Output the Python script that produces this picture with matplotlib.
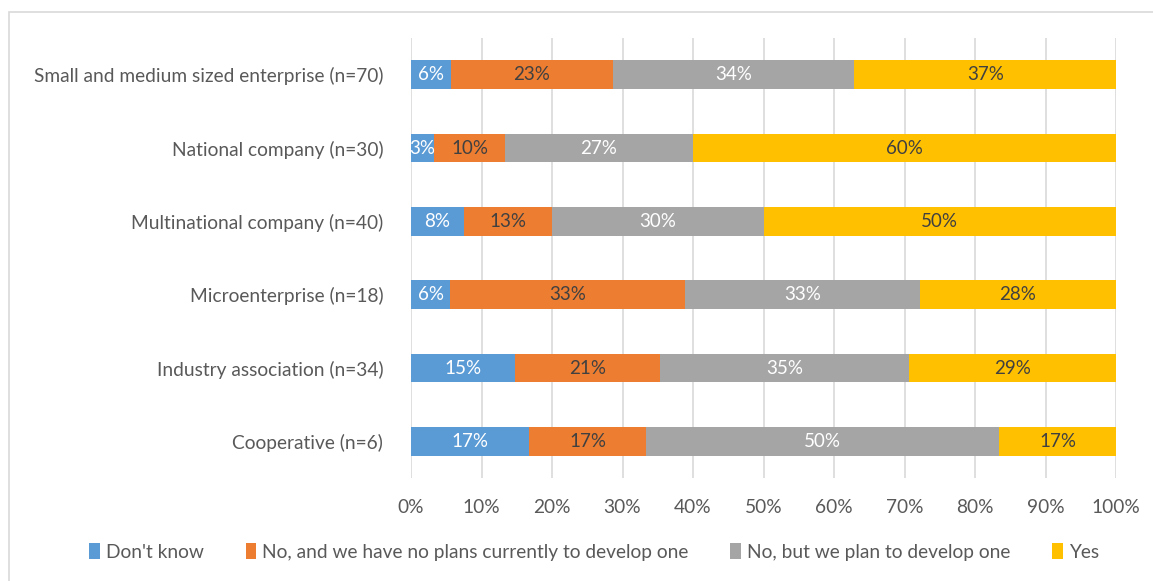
import matplotlib
matplotlib.use("Agg")
import matplotlib.pyplot as plt
from matplotlib.patches import Rectangle
import numpy as np

plt.rcParams['font.family'] = ['Lato', 'DejaVu Sans']

# categories listed bottom -> top
categories = ['Cooperative (n=6)', 'Industry association (n=34)', 'Microenterprise (n=18)',
              'Multinational company (n=40)', 'National company (n=30)',
              'Small and medium sized enterprise (n=70)']
dont_know = [16.7, 14.7, 5.6, 7.5, 3.3, 5.7]
no_plans = [16.7, 20.6, 33.3, 12.5, 10.0, 22.9]
plan_to = [50.0, 35.3, 33.3, 30.0, 26.7, 34.3]
yes = [16.7, 29.4, 27.8, 50.0, 60.0, 37.1]

series = ["Don't know", "No, and we have no plans currently to develop one",
          "No, but we plan to develop one", "Yes"]
colors = ['#5B9BD5', '#ED7D31', '#A5A5A5', '#FFC000']
text_colors = ['white', '#404040', 'white', '#404040']

fig = plt.figure(figsize=(11.53, 5.81), dpi=100)
ax = fig.add_axes([411/1153, 1-478/581, 705/1153, 440/581])

y = np.arange(len(categories))
left = np.zeros(len(categories))
for vals, name, col, tc in zip([dont_know, no_plans, plan_to, yes], series, colors, text_colors):
    vals = np.array(vals)
    ax.barh(y, vals, left=left, height=0.39, color=col, label=name, zorder=3)
    for yi, l, v in zip(y, left, vals):
        ax.text(l + v / 2, yi, f'{int(v + 0.5)}%', ha='center', va='center',
                color=tc, fontsize=13.5, zorder=4)
    left += vals

ax.set_xlim(0, 100)
ax.set_ylim(-0.5, 5.5)
ax.set_xticks(np.arange(0, 101, 10))
ax.set_xticklabels([f'{t}%' for t in range(0, 101, 10)])
ax.set_yticks(y)
ax.set_yticklabels(categories)
ax.xaxis.grid(True, color='#D9D9D9', linewidth=1.2, zorder=0)
for s in ax.spines.values():
    s.set_visible(False)
ax.tick_params(axis='both', length=0, labelsize=13.8, labelcolor='#595959')
ax.tick_params(axis='y', pad=20)
ax.tick_params(axis='x', pad=15)

handles, labels = ax.get_legend_handles_labels()
fig.legend(handles, labels, loc='center', bbox_to_anchor=(594/1153, 1-552/581), ncol=4,
           frameon=False, fontsize=13.8, handlelength=0.55, handleheight=0.9,
           handletextpad=0.3, columnspacing=2.2, labelcolor='#595959')

fig.patches.append(Rectangle((9/1153, -0.1), 1.2, 1-12/581+0.1, transform=fig.transFigure,
                             fill=False, edgecolor='#D9D9D9', linewidth=1.2))

fig.savefig('out.png', dpi=100)
